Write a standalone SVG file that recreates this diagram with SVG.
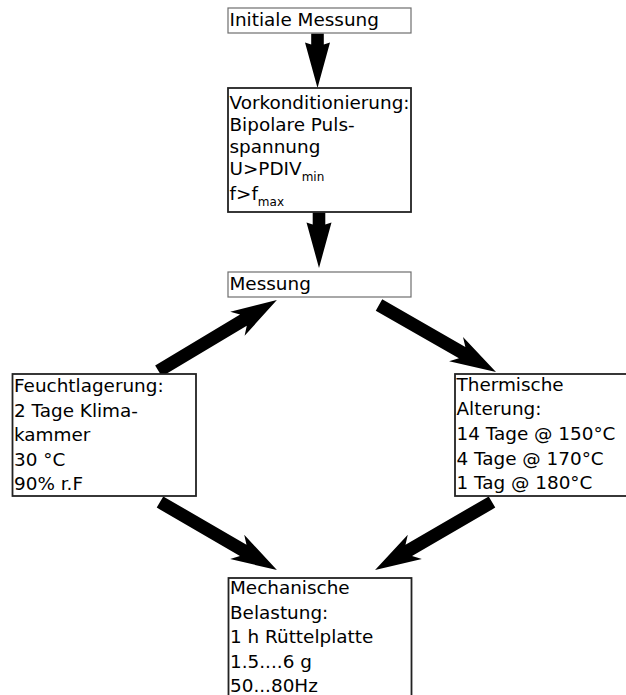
<svg xmlns="http://www.w3.org/2000/svg" width="626" height="695" viewBox="0 0 626 695">
<style>
  .thin { fill: #fff; stroke: #6e6e6e; stroke-width: 1.2; }
  .thick { fill: #fff; stroke: #222; stroke-width: 1.8; }
  text { font-family: "DejaVu Sans", "Verdana", sans-serif; font-size: 18.4px; fill: #000; }
  .sub { font-size: 12px; }
  .arrow { fill: #000; stroke: none; }
</style>
<rect width="626" height="695" fill="#fff"/>
<g id="connectors">
  <path class="arrow" transform="translate(317.5,33.5) rotate(90)" d="M0,-6.3 H11 L9,-12.5 L54.5,0 L9,12.5 L11,6.3 H0 Z"/>
  <path class="arrow" transform="translate(319,212.5) rotate(90)" d="M0,-6.3 H12 L10,-12.5 L55.5,0 L10,12.5 L12,6.3 H0 Z"/>
  <path class="arrow" transform="translate(158.5,371) rotate(-30.93)" d="M0,-6.5 H99 L92,-14 L138,0 L92,14 L99,6.5 H0 Z"/>
  <path class="arrow" transform="translate(379,305) rotate(29.8)" d="M0,-6.5 H95.8 L88.8,-14 L134.8,0 L88.8,14 L95.8,6.5 H0 Z"/>
  <path class="arrow" transform="translate(160,502) rotate(30.2)" d="M0,-6.5 H96.3 L89.3,-14 L135.3,0 L89.3,14 L96.3,6.5 H0 Z"/>
  <path class="arrow" transform="translate(492,502) rotate(149.8)" d="M0,-6.5 H96.3 L89.3,-14 L135.3,0 L89.3,14 L96.3,6.5 H0 Z"/>
</g>
<g id="initiale-messung">
  <rect class="thin" x="228" y="8" width="183" height="25"/>
  <text x="229.5" y="26">Initiale Messung</text>
</g>
<g id="vorkonditionierung">
  <rect class="thick" x="228" y="88" width="183" height="124"/>
  <text x="229.5" y="109">Vorkonditionierung:</text>
  <text x="229.5" y="131">Bipolare Puls-</text>
  <text x="229.5" y="153">spannung</text>
  <text x="229.5" y="175">U&gt;PDIV<tspan class="sub" dy="5.5">min</tspan></text>
  <text x="229.5" y="200">f&gt;f<tspan class="sub" dy="5.5">max</tspan></text>
</g>
<g id="messung">
  <rect class="thin" x="228" y="272" width="183" height="25"/>
  <text x="229.5" y="290">Messung</text>
</g>
<g id="feuchtlagerung">
  <rect class="thick" x="12.5" y="374" width="183.5" height="122"/>
  <text x="14" y="392">Feuchtlagerung:</text>
  <text x="14" y="416.5">2 Tage Klima-</text>
  <text x="14" y="441">kammer</text>
  <text x="14" y="465.5">30 °C</text>
  <text x="14" y="490">90% r.F</text>
</g>
<g id="thermische-alterung">
  <rect class="thick" x="455" y="374" width="183" height="122"/>
  <text x="456.5" y="390.5">Thermische</text>
  <text x="456.5" y="415">Alterung:</text>
  <text x="456.5" y="440">14 Tage @ 150°C</text>
  <text x="456.5" y="464.5">4 Tage @ 170°C</text>
  <text x="456.5" y="489">1 Tag @ 180°C</text>
</g>
<g id="mechanische-belastung">
  <rect class="thick" x="228.5" y="578" width="183" height="130"/>
  <text x="230" y="594">Mechanische</text>
  <text x="230" y="618.5">Belastung:</text>
  <text x="230" y="643">1 h Rüttelplatte</text>
  <text x="230" y="667.5">1.5....6 g</text>
  <text x="230" y="692">50...80Hz</text>
</g>
</svg>
